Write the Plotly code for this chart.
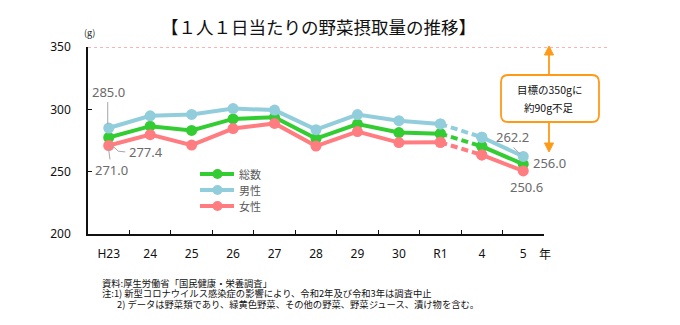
import plotly.graph_objects as go

# Survey years and vegetable intake (g / person / day)
years = ["H23", "24", "25", "26", "27", "28", "29", "30", "R1", "4", "5"]
total = [277.4, 286.5, 283.1, 292.3, 293.6, 276.5, 288.2, 281.4, 280.5, 270.3, 256.0]
male = [285.0, 294.8, 295.9, 300.6, 299.4, 283.7, 295.8, 290.9, 288.3, 277.6, 262.2]
female = [271.0, 279.7, 271.3, 284.6, 288.7, 270.5, 282.2, 273.3, 273.6, 263.4, 250.6]
series_names = ["総数", "男性", "女性"]
target = 350

GREEN = "#33CC33"
BLUE = "#92CDDC"
PINK = "#FF7C80"
ORANGE = "#FF9A17"
LABEL_GREY = "#6B6B6B"
LEADER_GREY = "#A6A6A6"
FONT = "Noto Sans, Noto Sans CJK JP, sans-serif"
JP_FONT = "Noto Sans CJK JP, sans-serif"

W, H = 680, 325
PL, PR, PT, PB = 88, 544, 47, 234


def px_x(px):
    return (px - PL) / (PR - PL)


def px_y(py):
    return (PB - py) / (PB - PT)


def paper_text(x, y, text, size, color="#111", family=JP_FONT, xanchor="center"):
    return dict(xref="paper", yref="paper", x=px_x(x), y=px_y(y), text=text,
                xanchor=xanchor, yanchor="middle", showarrow=False,
                font=dict(family=family, size=size, color=color))


fig = go.Figure()

# Each series: solid up to R1, dashed across the 2020-21 gap, solid for 4-5
gap = years.index("R1")
for name, vals, color in zip(series_names, [total, male, female], [GREEN, BLUE, PINK]):
    parts = [
        (years[:gap + 1], vals[:gap + 1], "solid"),
        (years[gap:gap + 2], vals[gap:gap + 2], "7px,4px"),
        (years[gap + 1:], vals[gap + 1:], "solid"),
    ]
    for xs, ys, dash in parts:
        fig.add_trace(go.Scatter(
            x=xs, y=ys, mode="lines+markers", name=name, showlegend=False,
            line=dict(color=color, width=4, dash=dash),
            marker=dict(color=color, size=11),
            hoverinfo="skip",
        ))

shapes = []
annotations = []

# Target line at 350 g
shapes.append(dict(type="line", xref="paper", yref="y", x0=0, x1=px_x(608),
                   y0=target, y1=target,
                   line=dict(color="#FF6666", width=1, dash="dot")))

# Shortfall callout box with rounded corners
bx0, bx1, by0, by1, r = 501, 599, 75, 122, 7
path = (
    f"M {px_x(bx0 + r)},{px_y(by0)} L {px_x(bx1 - r)},{px_y(by0)} "
    f"Q {px_x(bx1)},{px_y(by0)} {px_x(bx1)},{px_y(by0 + r)} "
    f"L {px_x(bx1)},{px_y(by1 - r)} "
    f"Q {px_x(bx1)},{px_y(by1)} {px_x(bx1 - r)},{px_y(by1)} "
    f"L {px_x(bx0 + r)},{px_y(by1)} "
    f"Q {px_x(bx0)},{px_y(by1)} {px_x(bx0)},{px_y(by1 - r)} "
    f"L {px_x(bx0)},{px_y(by0 + r)} "
    f"Q {px_x(bx0)},{px_y(by0)} {px_x(bx0 + r)},{px_y(by0)} Z"
)
shapes.append(dict(type="path", xref="paper", yref="paper", path=path,
                   fillcolor="white", line=dict(color=ORANGE, width=1.8)))

# Arrows from the box up to the target and down to the latest values
ax_px = 549
shapes.append(dict(type="line", xref="paper", yref="paper",
                   x0=px_x(ax_px), x1=px_x(ax_px), y0=px_y(by0), y1=px_y(55),
                   line=dict(color=ORANGE, width=1.8)))
shapes.append(dict(type="path", xref="paper", yref="paper",
                   path=f"M {px_x(ax_px)},{px_y(46)} L {px_x(ax_px - 4.5)},{px_y(55)} "
                        f"L {px_x(ax_px + 4.5)},{px_y(55)} Z",
                   fillcolor=ORANGE, line=dict(color=ORANGE, width=1)))
shapes.append(dict(type="line", xref="paper", yref="paper",
                   x0=px_x(ax_px), x1=px_x(ax_px), y0=px_y(by1), y1=px_y(143),
                   line=dict(color=ORANGE, width=1.8)))
shapes.append(dict(type="path", xref="paper", yref="paper",
                   path=f"M {px_x(ax_px)},{px_y(152)} L {px_x(ax_px - 4.5)},{px_y(143)} "
                        f"L {px_x(ax_px + 4.5)},{px_y(143)} Z",
                   fillcolor=ORANGE, line=dict(color=ORANGE, width=1)))
annotations.append(paper_text(549, 89, "目標の350gに", 10.5))
annotations.append(paper_text(549, 107.5, "約90g不足", 10.5))

# Legend drawn as line + dot samples with labels
for i, (name, color) in enumerate(zip(series_names, [GREEN, BLUE, PINK])):
    ly = 174 + 16 * i
    shapes.append(dict(type="line", xref="paper", yref="paper",
                       x0=px_x(200), x1=px_x(234), y0=px_y(ly), y1=px_y(ly),
                       line=dict(color=color, width=4)))
    shapes.append(dict(type="circle", xref="paper", yref="paper",
                       x0=px_x(212.5), x1=px_x(222.5), y0=px_y(ly + 5), y1=px_y(ly - 5),
                       fillcolor=color, line=dict(color=color, width=0)))
    annotations.append(paper_text(237, ly, name, 11, color="#595959", xanchor="left"))

# Value labels for the first and last year, offset in pixels from each point
lab_font = dict(family=FONT, size=13, color=LABEL_GREY)
first, last = 0, len(years) - 1
value_labels = [
    (first, male[0], 0, 36),
    (first, total[0], 37, -14),
    (first, female[0], 3, -25),
    (last, male[-1], -10.5, 19),
    (last, total[-1], 26, 1.5),
    (last, female[-1], 3, -16),
]
for xi, v, dx, dy in value_labels:
    annotations.append(dict(x=xi, y=v, text=f"{v:.1f}", showarrow=False,
                            xanchor="center", yanchor="middle",
                            xshift=dx, yshift=dy, font=lab_font))

# Leader lines, drawn in pixels relative to their points
leaders = [
    (first, male[0], "M -1,4 L -1,26"),
    (first, total[0], "M 1.3,-6 L 9.7,-13.7 L 16.5,-14.4"),
    (first, female[0], "M -0.3,-2.6 L 1.3,-14"),
    (last, male[-1], "M -9.7,9 L -3,2.3"),
]
for xi, v, p in leaders:
    shapes.append(dict(type="path", xref="x", yref="y",
                       xsizemode="pixel", ysizemode="pixel",
                       xanchor=xi, yanchor=v, path=p,
                       line=dict(color=LEADER_GREY, width=1)))

# Unit labels and title
annotations.append(paper_text(89, 33, "(g)", 9, color="#222"))
annotations.append(paper_text(545, 253, "年", 12))
annotations.append(paper_text(318, 26, "【１人１日当たりの野菜摂取量の推移】", 17.5))

# Source and notes
notes = [
    (100, 282.5, "資料:厚生労働省「国民健康・栄養調査」"),
    (100, 293, "注:1) 新型コロナウイルス感染症の影響により、令和2年及び令和3年は調査中止"),
    (115, 303.5, "2) データは野菜類であり、緑黄色野菜、その他の野菜、野菜ジュース、漬け物を含む。"),
]
for nx, ny, txt in notes:
    annotations.append(paper_text(nx, ny, txt, 9.3, xanchor="left"))

fig.update_layout(
    width=W, height=H,
    margin=dict(l=PL, r=W - PR, t=PT, b=H - PB),
    paper_bgcolor="white", plot_bgcolor="white",
    showlegend=False,
    shapes=shapes,
    annotations=annotations,
    font=dict(family=FONT, size=12, color="#111"),
    xaxis=dict(
        type="category", categoryorder="array", categoryarray=years,
        range=[-0.5, len(years) - 0.5],
        showline=True, linecolor="#111", linewidth=1.5,
        ticks="inside", ticklen=4, tickcolor="#111", tickwidth=1.2,
        tickson="boundaries", showgrid=False, zeroline=False,
        ticklabelstandoff=8,
        tickfont=dict(family=FONT, size=12, color="#111"),
    ),
    yaxis=dict(
        range=[200, 350], dtick=50, tick0=200,
        showline=True, linecolor="#111", linewidth=1.5,
        ticks="inside", ticklen=4, tickcolor="#111", tickwidth=1.2,
        showgrid=False, zeroline=False,
        ticklabelstandoff=13,
        tickfont=dict(family=FONT, size=12, color="#111"),
    ),
)

fig.write_html("out.html")
